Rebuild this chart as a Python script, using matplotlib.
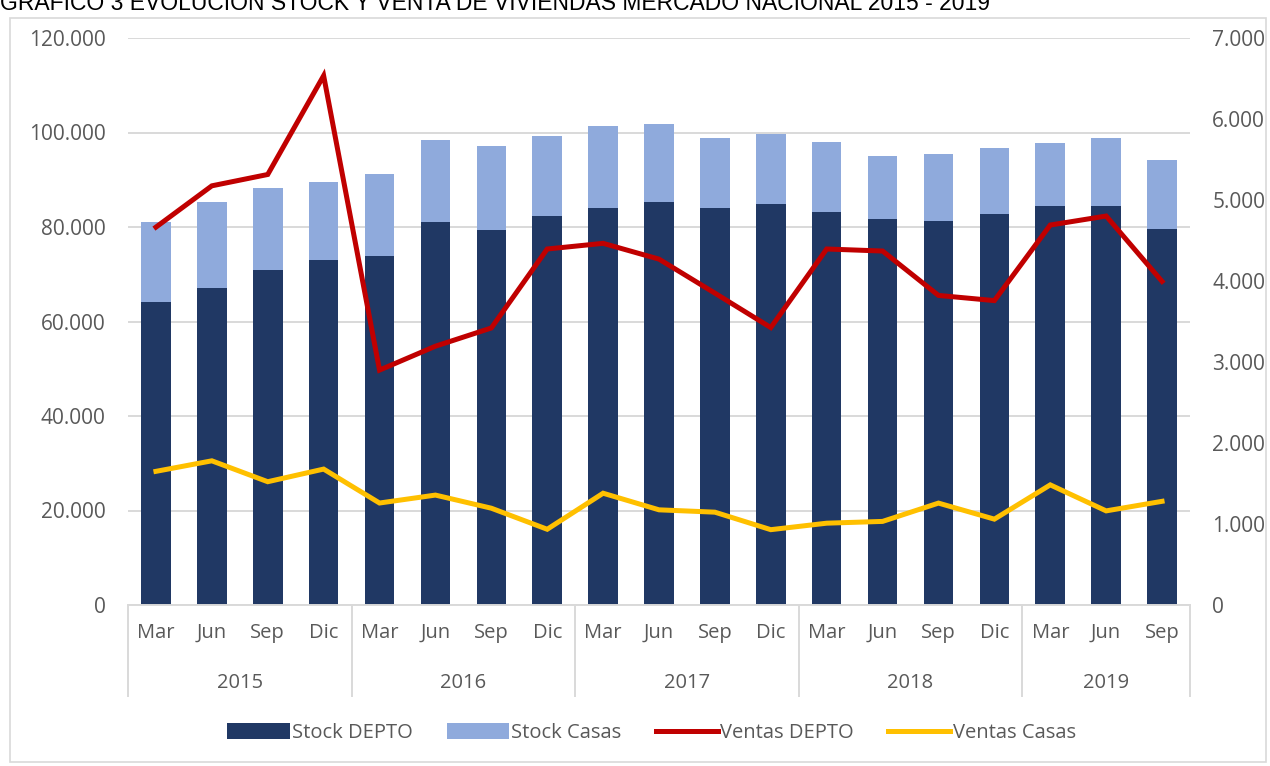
import numpy as np
import matplotlib
matplotlib.use("Agg")
import matplotlib.pyplot as plt
from matplotlib.patches import Patch, Rectangle
from matplotlib.lines import Line2D
from matplotlib.ticker import FuncFormatter

plt.rcParams["font.family"] = ["Open Sans", "DejaVu Sans"]

years = ["2015", "2016", "2017", "2018", "2019"]
months = ["Mar", "Jun", "Sep", "Dic"] * 4 + ["Mar", "Jun", "Sep"]
months_per_year = [4, 4, 4, 4, 3]

stock_depto = [64100, 67100, 70900, 73000, 73900, 81100, 79300, 82300, 84000, 85200,
               84000, 84800, 83100, 81600, 81200, 82800, 84500, 84500, 79500]
stock_total = [81000, 85300, 88300, 89500, 91200, 98400, 97200, 99300, 101400, 101800,
               98800, 99700, 97950, 95050, 95500, 96800, 97700, 98900, 94250]
stock_casas = [t - d for t, d in zip(stock_total, stock_depto)]

ventas_depto = [4665, 5175, 5315, 6535, 2900, 3195, 3420, 4395, 4465, 4270,
                3850, 3425, 4395, 4370, 3822, 3758, 4691, 4802, 3995]
ventas_casas = [1650, 1780, 1522, 1678, 1259, 1357, 1195, 935, 1380, 1175,
                1146, 930, 1010, 1032, 1258, 1060, 1483, 1162, 1280]

DARK = "#203864"
LIGHT = "#8FAADC"
RED = "#C00000"
YELLOW = "#FFC000"
GRID = "#D9D9D9"
TXT = "#595959"


def thousands(v, pos):
    return f"{v:,.0f}".replace(",", ".")


def main():
    fig = plt.figure(figsize=(12.7, 7.66), dpi=100)
    ax = fig.add_axes([128 / 1270, 1 - 605 / 766, 1062 / 1270, 567 / 766])

    x = np.arange(len(months))
    ax.bar(x, stock_depto, width=0.53, color=DARK, zorder=2)
    ax.bar(x, stock_casas, bottom=stock_depto, width=0.53, color=LIGHT, zorder=2)
    ax.set_xlim(-0.5, len(months) - 0.5)
    ax.set_ylim(0, 120000)
    ax.set_yticks(np.arange(0, 120001, 20000))
    ax.yaxis.set_major_formatter(FuncFormatter(thousands))
    ax.grid(axis="y", color=GRID, linewidth=1.4)
    ax.set_axisbelow(True)
    ax.tick_params(axis="y", length=0, pad=16, labelsize=15, labelcolor=TXT)
    ax.set_xticks(x)
    ax.set_xticklabels(months)
    ax.tick_params(axis="x", length=0, pad=13, labelsize=14.5, labelcolor=TXT)
    for s in ["left", "right", "top"]:
        ax.spines[s].set_visible(False)
    ax.spines["bottom"].set_color(GRID)
    ax.spines["bottom"].set_linewidth(1.4)

    # year group labels and separators under the month labels
    trans = ax.get_xaxis_transform()
    edges = np.concatenate([[0], np.cumsum(months_per_year)]) - 0.5
    ax.vlines(edges, -0.162, 0, transform=trans, colors=GRID, linewidth=1.4, clip_on=False)
    for i, yr in enumerate(years):
        mid = (edges[i] + edges[i + 1]) / 2
        ax.text(mid, -0.138, yr, transform=trans, ha="center", va="center",
                fontsize=14.5, color=TXT)

    ax2 = ax.twinx()
    ax2.plot(x, ventas_depto, color=RED, linewidth=3.6, solid_joinstyle="miter")
    ax2.plot(x, ventas_casas, color=YELLOW, linewidth=3.6, solid_joinstyle="miter")
    ax2.set_ylim(0, 7000)
    ax2.set_yticks(np.arange(0, 7001, 1000))
    ax2.yaxis.set_major_formatter(FuncFormatter(thousands))
    ax2.tick_params(axis="y", length=0, pad=16, labelsize=15, labelcolor=TXT)
    for s in ax2.spines.values():
        s.set_visible(False)

    handles = [
        Patch(facecolor=DARK),
        Patch(facecolor=LIGHT),
        Line2D([0], [0], color=RED, linewidth=3.6),
        Line2D([0], [0], color=YELLOW, linewidth=3.6),
    ]
    labels = ["Stock DEPTO", "Stock Casas", "Ventas DEPTO", "Ventas Casas"]
    leg = fig.legend(handles, labels, loc="center", bbox_to_anchor=(0.513, 1 - 733 / 766),
                     ncol=4, frameon=False, handlelength=3.1, handleheight=0.8,
                     handletextpad=0.1, columnspacing=1.7, fontsize=14.5)
    for t in leg.get_texts():
        t.set_color(TXT)

    # outer chart border
    fig.patches.append(Rectangle((10 / 1270, 4 / 766), 1256 / 1270, 744 / 766,
                                 transform=fig.transFigure, fill=False,
                                 edgecolor=GRID, linewidth=1.2))

    # title, cut off at the top like in the source screenshot
    fig.text(0.0, 1 - 3 / 766, "GRÁFICO 3 EVOLUCIÓN STOCK Y VENTA DE VIVIENDAS MERCADO NACIONAL 2015 - 2019",
             ha="left", va="center", fontsize=16.5, color="black",
             family=["Liberation Sans", "DejaVu Sans"])

    fig.savefig("out.png", dpi=100)
    plt.close(fig)


if __name__ == "__main__":
    main()
